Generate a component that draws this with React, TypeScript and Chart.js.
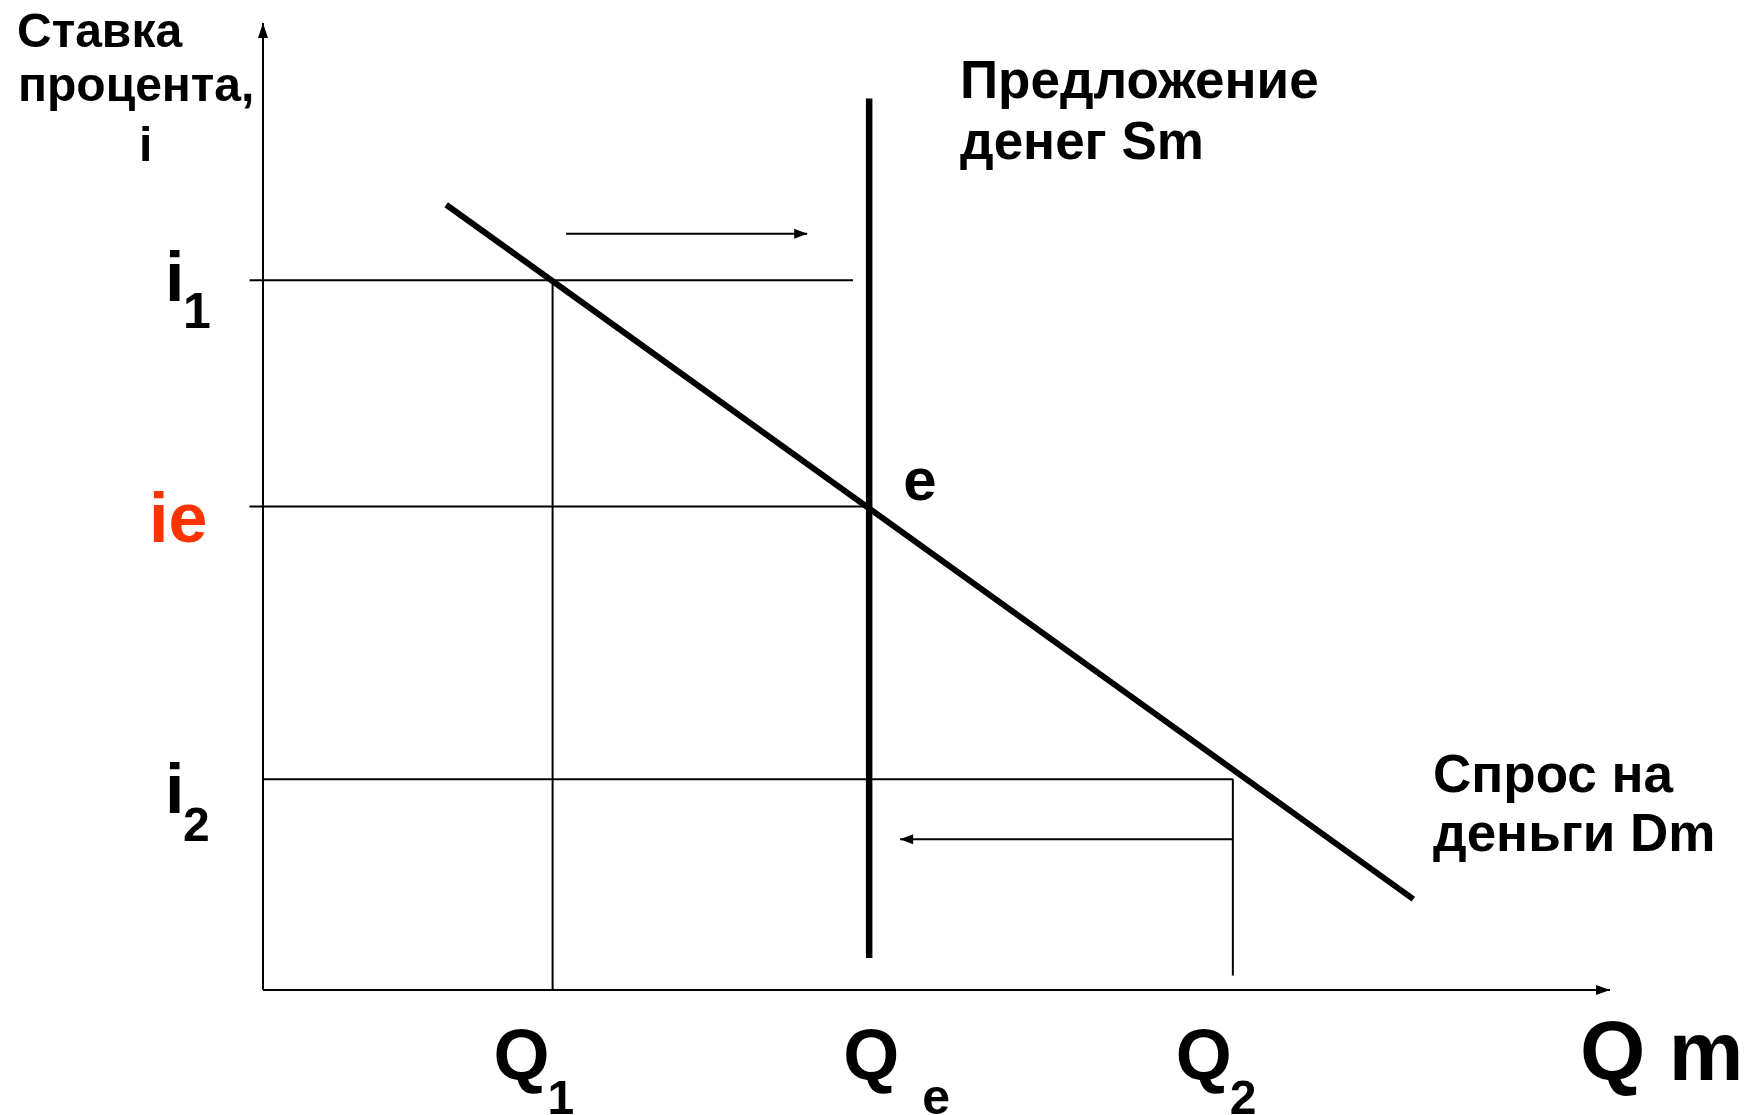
import React, { useEffect, useRef } from "react";
import { Chart, registerables } from "chart.js";

Chart.register(...registerables);

// ---- data (in abstract axis units, 0..100) ----
const quantityLabels = ["Q1", "Qe", "Q2"];
const quantityValues = [21.5, 45, 72];
const rateLabels = ["i1", "ie", "i2"];
const rateValues = [73.4, 50, 21.8];

const demandX = [13.6, 85.4];
const demandY = [81.2, 9.4];
const supplyX = [45, 45];
const supplyY = [3.3, 92.2];

const upperArrowX = [22.5, 40.4];
const upperArrowY = [78.2, 78.2];
const lowerArrowX = [72, 47.3];
const lowerArrowY = [15.6, 15.6];

const axisMax = 100;

const FONT = "'Liberation Sans', Arial, sans-serif";

function pts(xs: number[], ys: number[]) {
  return xs.map((x, i) => ({ x, y: ys[i] }));
}

function line(data: { x: number; y: number }[], width: number, arrow = false) {
  return {
    data,
    showLine: true,
    borderColor: "#000",
    backgroundColor: "#000",
    borderWidth: width,
    pointRadius: 0,
    pointHoverRadius: 0,
    fill: false,
    clip: false as any,
    arrow,
  } as any;
}

const arrowPlugin = {
  id: "arrowHeads",
  afterDatasetsDraw(chart: any) {
    const ctx = chart.ctx;
    chart.data.datasets.forEach((ds: any, i: number) => {
      if (!ds.arrow) return;
      const meta = chart.getDatasetMeta(i);
      const n = meta.data.length;
      const a = meta.data[n - 2];
      const b = meta.data[n - 1];
      const ang = Math.atan2(b.y - a.y, b.x - a.x);
      const L = ds.arrowLen || 13;
      const W = ds.arrowHalf || 5;
      ctx.save();
      ctx.translate(b.x, b.y);
      ctx.rotate(ang);
      ctx.beginPath();
      ctx.moveTo(0, 0);
      ctx.lineTo(-L, -W);
      ctx.lineTo(-L, W);
      ctx.closePath();
      ctx.fillStyle = "#000";
      ctx.fill();
      ctx.restore();
    });
  },
};

function drawSub(
  ctx: CanvasRenderingContext2D,
  main: string,
  sub: string,
  x: number,
  y: number,
  mainSize: number,
  subSize: number,
  subDx: number,
  subDy: number,
  color = "#000"
) {
  ctx.fillStyle = color;
  ctx.font = `bold ${mainSize}px ${FONT}`;
  ctx.fillText(main, x, y);
  if (sub) {
    ctx.font = `bold ${subSize}px ${FONT}`;
    ctx.fillText(sub, x + subDx, y + subDy);
  }
}

const labelPlugin = {
  id: "diagramLabels",
  afterDraw(chart: any) {
    const ctx = chart.ctx;
    const xs = chart.scales.x;
    const ys = chart.scales.y;
    ctx.save();
    ctx.textBaseline = "alphabetic";
    ctx.textAlign = "left";

    // axis title (y)
    ctx.fillStyle = "#000";
    ctx.font = `bold 48px ${FONT}`;
    ctx.fillText("Ставка", 17, 47);
    ctx.fillText("процента,", 18, 101);
    ctx.fillText("i", 139, 161);

    // rate labels
    const y0 = xs.getPixelForValue(0);
    const yi1 = ys.getPixelForValue(rateValues[0]);
    const yie = ys.getPixelForValue(rateValues[1]);
    const yi2 = ys.getPixelForValue(rateValues[2]);
    drawSub(ctx, "i", rateLabels[0].slice(1), y0 - 98, yi1 + 21, 70, 50, 18, 27);
    drawSub(ctx, rateLabels[1], "", y0 - 114, yie + 35, 70, 50, 0, 0, "#FF3300");
    drawSub(ctx, "i", rateLabels[2].slice(1), y0 - 98, yi2 + 34, 70, 48, 18, 28);

    // quantity labels
    const base = ys.getPixelForValue(0) + 90;
    const xq1 = xs.getPixelForValue(quantityValues[0]);
    const xqe = xs.getPixelForValue(quantityValues[1]);
    const xq2 = xs.getPixelForValue(quantityValues[2]);
    drawSub(ctx, "Q", quantityLabels[0].slice(1), xq1 - 59, base, 72, 48, 54, 34);
    drawSub(ctx, "Q", quantityLabels[1].slice(1), xqe - 26, base, 72, 50, 79, 34);
    drawSub(ctx, "Q", quantityLabels[2].slice(1), xq2 - 57, base, 72, 48, 54, 34);
    ctx.font = `bold 84px ${FONT}`;
    ctx.fillStyle = "#000";
    ctx.fillText("Q m", xs.getPixelForValue(axisMax) - 30, base);

    // equilibrium point label
    ctx.font = `bold 60px ${FONT}`;
    ctx.fillText("e", xqe + 34, yie - 7);

    // curve captions
    ctx.font = `bold 53px ${FONT}`;
    ctx.fillText("Предложение", 960, 98);
    ctx.fillText("денег Sm", 960, 159);
    ctx.fillText("Спрос на", 1433, 792);
    ctx.fillText("деньги Dm", 1433, 851);
    ctx.restore();
  },
};

export default function App() {
  const ref = useRef<HTMLCanvasElement | null>(null);
  useEffect(() => {
    document.body.style.margin = "0";
    const canvas = ref.current!;
    const datasets: any[] = [
      // axes
      Object.assign(line(pts([0, 0], [0, axisMax]), 2, true), { arrowLen: 15, arrowHalf: 5 }),
      Object.assign(line(pts([0, axisMax], [0, 0]), 2, true), { arrowLen: 14, arrowHalf: 5 }),
      // guide lines
      line(pts([-1, 43.8], [rateValues[0], rateValues[0]]), 2),
      line(pts([-1, quantityValues[1]], [rateValues[1], rateValues[1]]), 2),
      line(pts([0, quantityValues[2]], [rateValues[2], rateValues[2]]), 2),
      line(pts([quantityValues[0], quantityValues[0]], [0, rateValues[0]]), 2),
      line(pts([quantityValues[2], quantityValues[2]], [1.5, rateValues[2]]), 2),
      // shift arrows
      line(pts(upperArrowX, upperArrowY), 2, true),
      line(pts(lowerArrowX, lowerArrowY), 2, true),
      // supply & demand
      line(pts(supplyX, supplyY), 6.5),
      line(pts(demandX, demandY), 6),
    ];
    const chart = new Chart(canvas, {
      type: "scatter",
      data: { datasets },
      options: {
        animation: false,
        responsive: false,
        maintainAspectRatio: false,
        layout: { padding: { left: 263, right: 136, top: 23, bottom: 125 } },
        scales: {
          x: { type: "linear", min: 0, max: axisMax, display: false },
          y: { type: "linear", min: 0, max: axisMax, display: false },
        },
        plugins: { legend: { display: false }, tooltip: { enabled: false } },
        events: [],
      },
      plugins: [arrowPlugin, labelPlugin],
    } as any);
    return () => chart.destroy();
  }, []);
  return (
    <canvas
      ref={ref}
      width={1746}
      height={1115}
      style={{ display: "block", width: 1746, height: 1115, background: "#fff" }}
    />
  );
}
